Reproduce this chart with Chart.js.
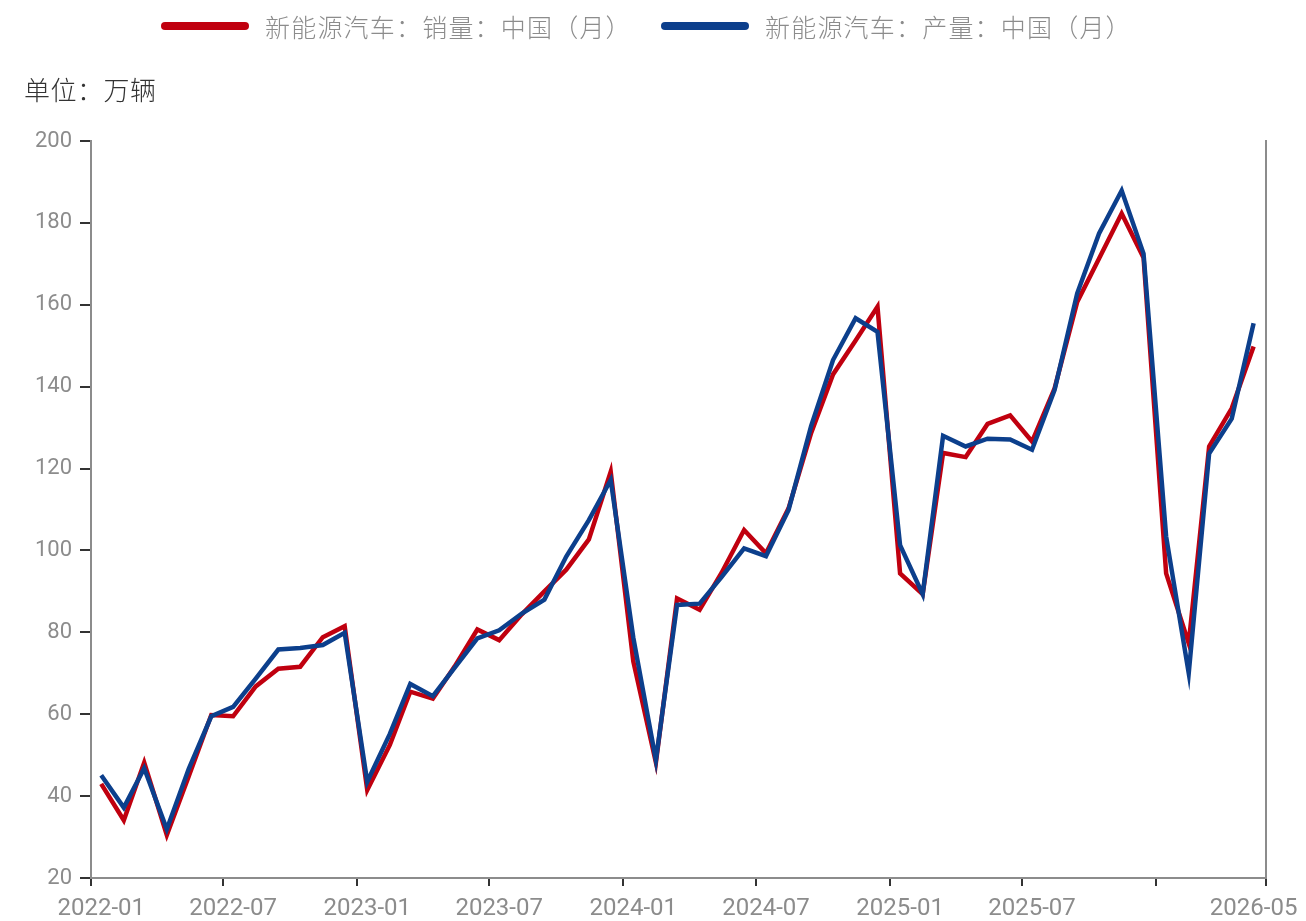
<!DOCTYPE html>
<html>
<head>
<meta charset="utf-8">
<script src="https://cdn.jsdelivr.net/npm/chart.js@4.4.1/dist/chart.umd.min.js"></script>
<style>
  body{margin:0;background:#fff;}
  #wrap{position:relative;width:1306px;height:921px;}
  #grafico{position:absolute;left:0;top:0;}
  .leyenda{position:absolute;top:10px;height:32px;display:flex;align-items:center;letter-spacing:1.2px;
    font-family:"Noto Sans CJK SC","Noto Sans",sans-serif;font-weight:300;font-size:25px;color:#8c8c8c;white-space:nowrap;}
  .leyenda span.linea{display:inline-block;width:88px;height:8px;border-radius:4px;margin-right:16px;}
  #unidad{position:absolute;left:24px;top:70px;font-family:"Noto Sans CJK SC","Noto Sans",sans-serif;
    font-weight:300;font-size:26px;color:#333;letter-spacing:0.5px;}
</style>
</head>
<body>
<div id="wrap">
  <canvas id="grafico" width="1306" height="921"></canvas>
  <div class="leyenda" style="left:161px"><span class="linea" style="background:#C0000F"></span>新能源汽车：销量：中国（月）</div>
  <div class="leyenda" style="left:661px"><span class="linea" style="background:#0C3F8C"></span>新能源汽车：产量：中国（月）</div>
  <div id="unidad">单位：万辆</div>
</div>
<script>
// meses 2022-01 .. 2026-05
const meses=[
 '2022-01','2022-02','2022-03','2022-04','2022-05','2022-06','2022-07','2022-08','2022-09','2022-10','2022-11','2022-12',
 '2023-01','2023-02','2023-03','2023-04','2023-05','2023-06','2023-07','2023-08','2023-09','2023-10','2023-11','2023-12',
 '2024-01','2024-02','2024-03','2024-04','2024-05','2024-06','2024-07','2024-08','2024-09','2024-10','2024-11','2024-12',
 '2025-01','2025-02','2025-03','2025-04','2025-05','2025-06','2025-07','2025-08','2025-09','2025-10','2025-11','2025-12',
 '2026-01','2026-02','2026-03','2026-04','2026-05']

// 销量 (万辆)
const ventas=[
 43.0,34.1,48.2,30.5,44.8,59.8,59.5,66.8,71.1,71.6,78.8,81.5,
 41.5,52.5,65.5,63.8,71.7,80.7,78.1,84.4,90.0,95.3,102.7,119.2,
 72.9,48.2,88.3,85.5,94.5,105.0,99.3,110.3,128.7,143.0,151.3,159.5,
 94.4,89.3,123.8,122.8,130.9,133.0,126.6,139.6,160.7,171.3,182.3,171.5,
 94.4,77.3,125.4,134.7,149.8]

// 产量 (万辆)
const produccion=[
 45.1,37.2,46.8,31.9,46.6,59.5,61.8,68.7,75.8,76.2,76.9,79.9,
 43.5,55.2,67.4,64.4,71.4,78.5,80.5,84.6,88.0,98.5,107.4,117.2,
 78.7,48.8,86.7,87.0,93.5,100.5,98.6,109.9,130.4,146.5,156.7,153.4,
 101.3,89.3,128.0,125.4,127.3,127.1,124.6,139.2,162.8,177.4,187.9,172.5,
 103.4,70.0,123.7,132.2,155.5]

const etiquetasX=['2022-01','2022-07','2023-01','2023-07','2024-01','2024-07','2025-01','2025-07','2026-05']
const marcasX=['2022-01','2022-07','2023-01','2023-07','2024-01','2024-07','2025-01','2025-07','2026-01','2026-06']
const ticksY=[20,40,60,80,100,120,140,160,180,200]

// dias desde 2022-01-01
const dia=(mes,d)=>{
    const [a,m]=mes.split('-').map(Number)
    return (Date.UTC(a,m-1,d)-Date.UTC(2022,0,1))/86400000
}
const xMin=dia('2022-01',1)
const xMax=dia('2026-06',1)

const puntos=(serie)=>serie.map((v,i)=>({x:dia(meses[i],15),y:v}))

const gris='#8c8c8c'
const fuenteNum={family:'Roboto, "Liberation Sans", sans-serif',size:22}

new Chart(document.getElementById('grafico'),{
    type:'line',
    data:{
        datasets:[
            {label:'新能源汽车：销量：中国（月）',data:puntos(ventas),borderColor:'#C0000F',backgroundColor:'#C0000F',
             borderWidth:4.5,pointRadius:0,tension:0,fill:false,order:2},
            {label:'新能源汽车：产量：中国（月）',data:puntos(produccion),borderColor:'#0C3F8C',backgroundColor:'#0C3F8C',
             borderWidth:4.5,pointRadius:0,tension:0,fill:false,order:1}
        ]
    },
    options:{
        responsive:false,
        animation:false,
        devicePixelRatio:1,
        layout:{padding:{left:0,right:40,top:141,bottom:0}},
        plugins:{legend:{display:false},tooltip:{enabled:false}},
        scales:{
            x:{
                type:'linear',position:'bottom',min:xMin,max:xMax,weight:0,
                grid:{drawOnChartArea:false,tickLength:8,tickColor:'#333',lineWidth:2},
                border:{color:gris,width:2},
                ticks:{callback:()=>'',autoSkip:false},
                afterBuildTicks:(s)=>{s.ticks=marcasX.map(m=>({value:dia(m,1)}))},
                afterFit:(s)=>{s.height=8;s.paddingLeft=0;s.paddingRight=0}
            },
            x2:{
                type:'linear',position:'bottom',min:xMin,max:xMax,weight:1,
                grid:{display:false,drawTicks:false},
                border:{display:false},
                ticks:{autoSkip:false,maxRotation:0,padding:9,color:gris,
                       font:{family:'Roboto, "Liberation Sans", sans-serif',size:24},
                       callback:(v)=>{
                           const e=etiquetasX.find(m=>dia(m,15)===v)
                           return e||''
                       }},
                afterBuildTicks:(s)=>{s.ticks=etiquetasX.map(m=>({value:dia(m,15)}))},
                afterFit:(s)=>{s.height=35;s.paddingLeft=0;s.paddingRight=0}
            },
            y:{
                min:20,max:200,
                grid:{drawOnChartArea:false,tickLength:11,tickColor:'#333',lineWidth:2},
                border:{color:gris,width:2},
                ticks:{padding:8,color:gris,font:fuenteNum},
                afterBuildTicks:(s)=>{s.ticks=ticksY.map(v=>({value:v}))},
                afterFit:(s)=>{s.width=91}
            },
            yDer:{
                position:'right',min:20,max:200,
                grid:{display:false,drawTicks:false},
                border:{color:gris,width:2},
                ticks:{display:false},
                afterFit:(s)=>{s.width=0}
            }
        }
    }
})
</script>
</body>
</html>
